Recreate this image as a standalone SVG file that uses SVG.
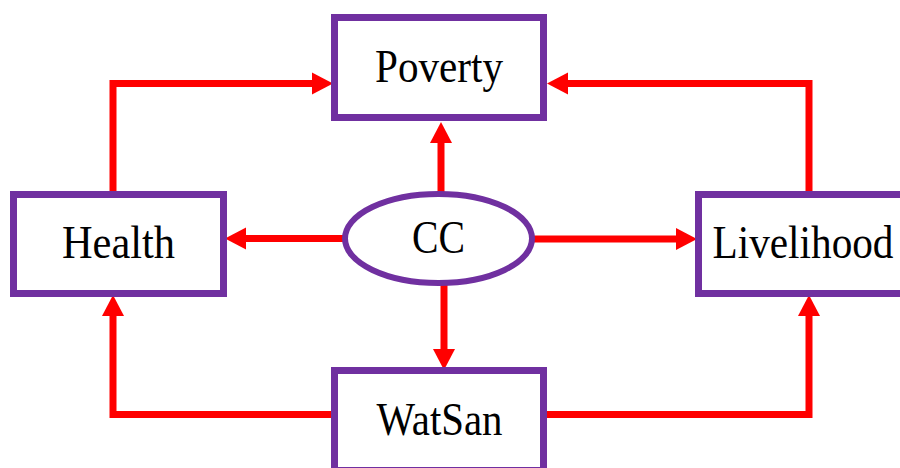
<svg xmlns="http://www.w3.org/2000/svg" width="900" height="468" viewBox="0 0 900 468">
  <style>
    .box { fill: #ffffff; stroke: #7030A0; stroke-width: 7; }
    .oval { fill: #ffffff; stroke: #7030A0; stroke-width: 6; }
    .lbl { font-family: "Liberation Serif", "Times New Roman", serif; font-size: 46px; fill: #000000; text-anchor: middle; }
    .conn { fill: none; stroke: #FF0000; stroke-width: 7; stroke-linejoin: miter; marker-end: url(#arrow); }
  </style>
  <defs>
    <marker id="arrow" markerUnits="userSpaceOnUse" markerWidth="22" markerHeight="22" refX="0" refY="11" orient="auto" overflow="visible">
      <path d="M0,0 L21,11 L0,22 Z" fill="#FF0000"/>
    </marker>
  </defs>
  <rect width="900" height="468" fill="#ffffff"/>
  <g id="connectors">
    <polyline class="conn" points="113,194 113,83.5 312,83.5"/>
    <polyline class="conn" points="809,194 809,83.5 568,83.5"/>
    <polyline class="conn" points="441,194 441,143"/>
    <polyline class="conn" points="444,283 444,349"/>
    <polyline class="conn" points="343,238.5 246,238.5"/>
    <polyline class="conn" points="534,239 676,239"/>
    <polyline class="conn" points="334,414.5 113,414.5 113,316"/>
    <polyline class="conn" points="544,414.5 809,414.5 809,316"/>
  </g>
  <g id="poverty">
    <rect class="box" x="334.5" y="17.5" width="209" height="100"/>
    <text class="lbl" x="439" y="82" textLength="128" lengthAdjust="spacingAndGlyphs">Poverty</text>
  </g>
  <g id="health">
    <rect class="box" x="13.5" y="194.5" width="210" height="99"/>
    <text class="lbl" x="118.5" y="258" textLength="113" lengthAdjust="spacingAndGlyphs">Health</text>
  </g>
  <g id="livelihood">
    <rect class="box" x="698.5" y="194.5" width="210" height="99"/>
    <text class="lbl" x="803" y="258" textLength="181" lengthAdjust="spacingAndGlyphs">Livelihood</text>
  </g>
  <g id="cc">
    <ellipse class="oval" cx="438.5" cy="238.5" rx="93.5" ry="44.5"/>
    <text class="lbl" x="438.5" y="253" textLength="53" lengthAdjust="spacingAndGlyphs">CC</text>
  </g>
  <g id="watsan">
    <rect class="box" x="334.5" y="370.5" width="209" height="100"/>
    <text class="lbl" x="439.5" y="435" textLength="126" lengthAdjust="spacingAndGlyphs">WatSan</text>
  </g>
</svg>
